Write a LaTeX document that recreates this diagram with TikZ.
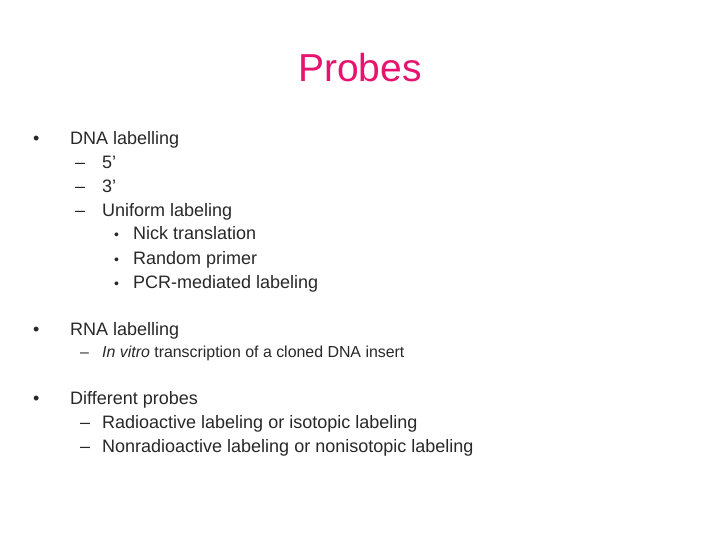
\documentclass[tikz,border=0pt]{standalone}
\usepackage{fontspec}
\setmainfont{Liberation Sans}
\definecolor{tc}{RGB}{40,40,40}
\definecolor{title}{RGB}{230,20,110}
\begin{document}
\begin{tikzpicture}[x=1pt,y=-1pt,
  t/.style={anchor=base west,inner sep=0pt,text=tc,font=\fontsize{18}{20}\selectfont},
  s/.style={anchor=base west,inner sep=0pt,text=tc,font=\fontsize{14}{16}\selectfont},
  m/.style={anchor=base west,inner sep=0pt,text=tc,font=\fontsize{15.9}{18}\selectfont}]
\useasboundingbox[fill=white] (0,0) rectangle (720,540);
\node[text=title,font=\fontsize{39}{44}\selectfont,inner sep=0pt] (ttl) at (360,68) {Probes};
\node[t] (b1) at (33,145) {•};
\node[t] (l1) at (70,145) {DNA labelling};
\node[t] (d1) at (75,169) {–};
\node[t] (l2) at (102,169) {5’};
\node[t] (d2) at (75,193) {–};
\node[t] (l3) at (102,193) {3’};
\node[t] (d3) at (75,217) {–};
\node[t] (l4) at (102,217) {Uniform labeling};
\node[s] (e1) at (114,240) {•};
\node[t] (l5) at (133,240) {Nick translation};
\node[s] (e2) at (114,264) {•};
\node[t] (l6) at (133,264) {Random primer};
\node[s] (e3) at (114,288) {•};
\node[t] (l7) at (133,288) {PCR-mediated labeling};
\node[t] (b2) at (33,335) {•};
\node[t] (l8) at (70,335) {RNA labelling};
\node[m] (d4) at (80,357) {–};
\node[m] (l9) at (102,357) {\textit{In vitro} transcription of a cloned DNA insert};
\node[t] (b3) at (33,404) {•};
\node[t] (l10) at (70,404) {Different probes};
\node[t] (d5) at (80,428) {–};
\node[t] (l11) at (102,428) {Radioactive labeling or isotopic labeling};
\node[t] (d6) at (80,452) {–};
\node[t] (l12) at (102,452) {Nonradioactive labeling or nonisotopic labeling};
\end{tikzpicture}
\end{document}
